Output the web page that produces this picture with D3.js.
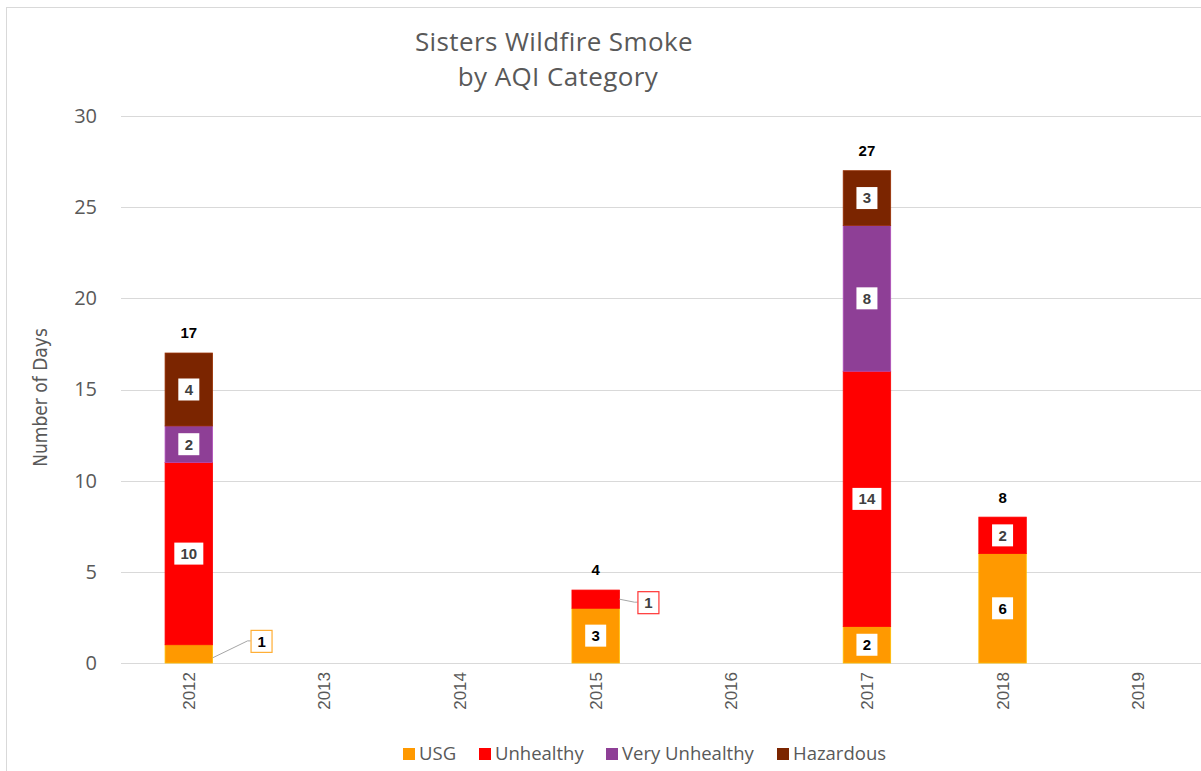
<!DOCTYPE html>
<html>
<head>
<meta charset="utf-8">
<script src="https://cdn.jsdelivr.net/npm/d3@7"></script>
<style>
  body { margin: 0; background: #fff; }
  svg { display: block; font-family: "Open Sans", "Liberation Sans", sans-serif; }
</style>
</head>
<body>
<div id="chart"></div>
<script>
// data
const years = ["2012", "2013", "2014", "2015", "2016", "2017", "2018", "2019"];
const categories = ["USG", "Unhealthy", "Very Unhealthy", "Hazardous"];
const usg = [1, 0, 0, 3, 0, 2, 6, 0];
const unhealthy = [10, 0, 0, 1, 0, 14, 2, 0];
const veryUnhealthy = [2, 0, 0, 0, 0, 8, 0, 0];
const hazardous = [4, 0, 0, 0, 0, 3, 0, 0];
const colors = ["#ff9900", "#ff0000", "#8e3f96", "#7b2500"];
const yTicks = [0, 5, 10, 15, 20, 25, 30];

const width = 1201, height = 771;
const margin = { top: 116, right: -5, bottom: 108, left: 121 };

const rows = years.map((y, i) => ({
  year: y,
  "USG": usg[i],
  "Unhealthy": unhealthy[i],
  "Very Unhealthy": veryUnhealthy[i],
  "Hazardous": hazardous[i]
}));
rows.forEach(d => d.total = categories.reduce((s, c) => s + d[c], 0));

const svg = d3.select("#chart").append("svg")
  .attr("width", width)
  .attr("height", height);

// frame
svg.append("rect")
  .attr("x", 6.5).attr("y", 7.5)
  .attr("width", 1200).attr("height", 770)
  .attr("fill", "none").attr("stroke", "#d9d9d9");

const x = d3.scaleBand()
  .domain(years)
  .range([margin.left, width - margin.right])
  .paddingInner(0.65)
  .paddingOuter(0.325);

const y = d3.scaleLinear()
  .domain([0, 30])
  .range([height - margin.bottom, margin.top]);

const color = d3.scaleOrdinal().domain(categories).range(colors);

// gridlines
svg.append("g")
  .selectAll("line")
  .data(yTicks)
  .join("line")
  .attr("x1", margin.left).attr("x2", width)
  .attr("y1", d => Math.round(y(d)) + 0.5).attr("y2", d => Math.round(y(d)) + 0.5)
  .attr("stroke", "#d9d9d9").attr("stroke-width", 1);

// y axis labels
const yAxis = svg.append("g")
  .attr("transform", `translate(${margin.left - 24},0)`)
  .call(d3.axisLeft(y).tickValues(yTicks).tickSize(0).tickPadding(0));
yAxis.select(".domain").remove();
yAxis.selectAll("text")
  .attr("fill", "#595959")
  .style("font-size", "20px")
  .style("font-family", "Open Sans, sans-serif");

// x axis labels
const xAxis = svg.append("g")
  .attr("transform", `translate(0,${height - margin.bottom})`)
  .call(d3.axisBottom(x).tickSize(0));
xAxis.select(".domain").remove();
xAxis.selectAll("text")
  .attr("fill", "#595959")
  .style("font-size", "17px")
  .style("font-family", "Liberation Sans, Arial, sans-serif")
  .attr("transform", "rotate(-90)")
  .attr("text-anchor", "end")
  .attr("x", -9)
  .attr("y", 0)
  .attr("dy", "0.35em");

// stacked bars
const series = d3.stack().keys(categories)(rows);

const layers = svg.append("g")
  .selectAll("g")
  .data(series)
  .join("g")
  .attr("fill", d => color(d.key))
  .attr("stroke", d => d3.color(color(d.key)).brighter(0.6))
  .attr("stroke-width", 0.8);

layers.selectAll("rect")
  .data(d => d.filter(p => p[1] > p[0]))
  .join("rect")
  .attr("x", d => x(d.data.year))
  .attr("width", x.bandwidth())
  .attr("y", d => y(d[1]))
  .attr("height", d => y(d[0]) - y(d[1]));

// segment value labels
const segs = [];
series.forEach(s => s.forEach(p => {
  const v = p[1] - p[0];
  if (v > 0) segs.push({ key: s.key, year: p.data.year, v: v, y0: p[0], y1: p[1] });
}));

const labelG = svg.append("g")
  .style("font-family", "Liberation Sans, Arial, sans-serif")
  .style("font-weight", "bold")
  .style("font-size", "15px");

segs.forEach(s => {
  const px = y(s.y0) - y(s.y1);
  const cx = x(s.year) + x.bandwidth() / 2;
  const txt = String(s.v);
  const w = txt.length > 1 ? 29 : 21, h = 22;
  const dark = s.key === "USG" ? "#000" : "#404040";
  if (px >= 30) {
    const cy = y((s.y0 + s.y1) / 2);
    labelG.append("rect")
      .attr("x", cx - w / 2).attr("y", cy - h / 2)
      .attr("width", w).attr("height", h)
      .attr("fill", "#fff");
    labelG.append("text")
      .attr("x", cx).attr("y", cy)
      .attr("dy", "0.36em")
      .attr("text-anchor", "middle")
      .attr("fill", dark)
      .text(txt);
  } else {
    // callout to the right of the bar
    const right = x(s.year) + x.bandwidth();
    const cy = y((s.y0 + s.y1) / 2);
    const bx = right + 18 + (s.key === "USG" ? 20 : 0);
    const by = cy - (s.key === "USG" ? 13 : -3);
    labelG.append("polyline")
      .attr("points", `${right},${cy + (s.key === "USG" ? 4 : 0)} ${bx - 3},${by} ${bx},${by}`)
      .attr("fill", "none")
      .attr("stroke", "#a6a6a6")
      .attr("stroke-width", 1);
    labelG.append("rect")
      .attr("x", bx + 0.5).attr("y", by - h / 2 + 0.5)
      .attr("width", w).attr("height", h)
      .attr("fill", "#fff")
      .attr("stroke", color(s.key))
      .attr("stroke-opacity", 0.8)
      .attr("stroke-width", 1.2);
    labelG.append("text")
      .attr("x", bx + 0.5 + w / 2).attr("y", by + 0.5)
      .attr("dy", "0.36em")
      .attr("text-anchor", "middle")
      .attr("fill", s.key === "USG" ? "#000" : "#404040")
      .text(txt);
  }
});

// totals
svg.append("g")
  .selectAll("text")
  .data(rows.filter(d => d.total > 0))
  .join("text")
  .attr("x", d => x(d.year) + x.bandwidth() / 2)
  .attr("y", d => y(d.total) - 20)
  .attr("dy", "0.36em")
  .attr("text-anchor", "middle")
  .style("font-family", "Liberation Sans, Arial, sans-serif")
  .style("font-weight", "bold")
  .style("font-size", "15px")
  .attr("fill", "#000")
  .text(d => d.total);

// title
svg.append("text")
  .attr("x", 554).attr("y", 51)
  .attr("text-anchor", "middle")
  .attr("fill", "#595959")
  .style("font-size", "26px")
  .style("letter-spacing", "0.4px")
  .style("font-family", "Open Sans, sans-serif")
  .text("Sisters Wildfire Smoke");
svg.append("text")
  .attr("x", 558).attr("y", 86)
  .attr("text-anchor", "middle")
  .attr("fill", "#595959")
  .style("font-size", "26px")
  .style("letter-spacing", "0.4px")
  .style("font-family", "Open Sans, sans-serif")
  .text("by AQI Category");

// y axis title
svg.append("text")
  .attr("transform", `translate(47,${(y(0) + y(30)) / 2 + 8}) rotate(-90)`)
  .attr("text-anchor", "middle")
  .attr("fill", "#595959")
  .style("font-size", "19px")
  .style("font-family", "DejaVu Sans, sans-serif")
  .style("font-stretch", "condensed")
  .text("Number of Days");

// legend
const legendX = [403, 479, 606, 777];
const legend = svg.append("g")
  .selectAll("g")
  .data(categories)
  .join("g")
  .attr("transform", (d, i) => `translate(${legendX[i]},754)`);
legend.append("rect")
  .attr("x", 0).attr("y", -6)
  .attr("width", 12).attr("height", 12)
  .attr("fill", d => color(d));
legend.append("text")
  .attr("x", 16).attr("y", 0)
  .attr("dy", "0.35em")
  .attr("fill", "#595959")
  .style("font-size", "18.5px")
  .style("font-family", "Open Sans, sans-serif")
  .text(d => d);
</script>
</body>
</html>
